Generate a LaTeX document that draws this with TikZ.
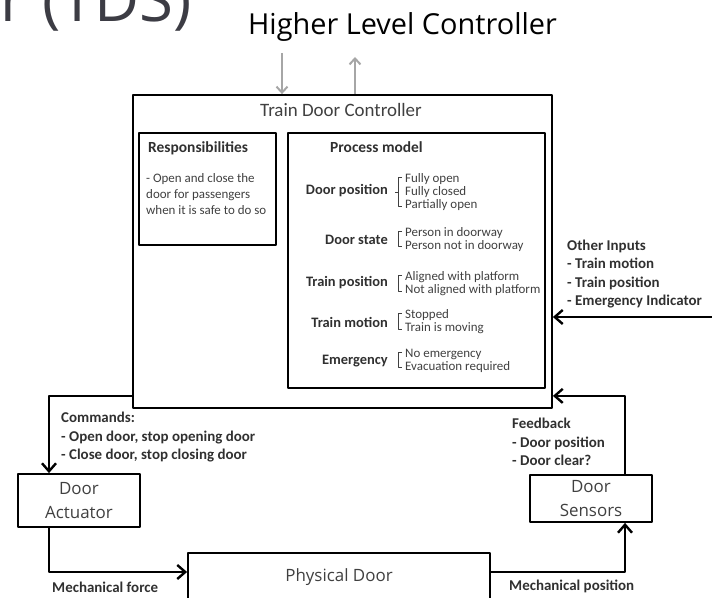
\documentclass[tikz,border=0pt]{standalone}
\usepackage{fontspec}
\setmainfont{Carlito}
\newfontfamily\opensans{Open Sans}
\usetikzlibrary{arrows.meta}
\definecolor{boxtext}{HTML}{404040}
\definecolor{labeltext}{HTML}{303030}
\definecolor{hlgrey}{HTML}{A6A6A6}
\definecolor{titlegrey}{HTML}{3C3C44}
\begin{document}
\begin{tikzpicture}[>={Straight Barb[length=8bp,width=14bp]},line join=bevel,
  box/.style={draw=black,line width=1.8bp,inner sep=0pt},
  boxtitle/.style={text=boxtext,font=\opensans\fontsize{17}{24}\selectfont,align=center},
  flow/.style={black,line width=2.4bp,->},
  hlflow/.style={hlgrey,line width=2bp,-{Straight Barb[length=6bp,width=11bp]}},
  note/.style={text=labeltext,font=\bfseries\fontsize{15}{18.5}\selectfont,align=left,inner sep=0pt},
  rowlabel/.style={text=labeltext,font=\bfseries\fontsize{14.5}{16}\selectfont,inner sep=0pt},
  rowvals/.style={text=boxtext,font=\fontsize{13}{13}\selectfont,align=left,inner sep=0pt},
  bracket/.style={boxtext,line width=0.8bp},
]
\useasboundingbox (0bp,0bp) rectangle (712bp,598bp);
%%
\node (slide_title) at (192bp,576bp) [anchor=base east,inner sep=0pt,text=titlegrey,font=\opensans\fontsize{62}{62}\selectfont] {r (TDS)};
\node (hlc) at (402.5bp,563bp) [anchor=base,inner sep=0pt,font=\opensans\fontsize{29}{29}\selectfont] {Higher Level Controller};
%% controller
\node (tdc) at (342.5bp,346.5bp) [box,minimum width=419bp,minimum height=313bp] {};
\node (tdc_title) at (341bp,481bp) [anchor=base,inner sep=0pt,text=boxtext,font=\fontsize{19}{19}\selectfont] {Train Door Controller};
\node (resp) at (207.5bp,409bp) [box,minimum width=137bp,minimum height=112bp] {};
\node (resp_title) at (148bp,445bp) [anchor=base west,rowlabel,font=\bfseries\fontsize{15.5}{16}\selectfont] {Responsibilities};
\node (resp_text) at (146bp,424.5bp) [anchor=north west,rowvals,font=\fontsize{13}{16}\selectfont] {- Open and close the\\door for passengers\\when it is safe to do so};
\node (pm) at (416.5bp,337.5bp) [box,minimum width=257bp,minimum height=255bp] {};
\node (pm_title) at (330bp,445bp) [anchor=base west,rowlabel,font=\bfseries\fontsize{15.5}{16}\selectfont] {Process model};
%% process model rows
\node (dp) at (388bp,403bp) [anchor=base east,rowlabel] {Door position};
\node (dp_val) at (405bp,405.5bp) [anchor=west,rowvals] {Fully open\\Fully closed\\Partially open};
\node (ds) at (388bp,353bp) [anchor=base east,rowlabel] {Door state};
\node (ds_val) at (405bp,358.5bp) [anchor=west,rowvals] {Person in doorway\\Person not in doorway};
\node (tp) at (388bp,311bp) [anchor=base east,rowlabel] {Train position};
\node (tp_val) at (405bp,314bp) [anchor=west,rowvals] {Aligned with platform\\Not aligned with platform};
\node (tm) at (388bp,270bp) [anchor=base east,rowlabel] {Train motion};
\node (tm_val) at (405bp,276bp) [anchor=west,rowvals] {Stopped\\Train is moving};
\node (em) at (388bp,233bp) [anchor=base east,rowlabel] {Emergency};
\node (em_val) at (405bp,237.5bp) [anchor=west,rowvals] {No emergency\\Evacuation required};
\draw [bracket] ([xshift=-3bp,yshift=-4bp]dp_val.north west) -- ++(-4bp,0) |- ([xshift=-3bp,yshift=5bp]dp_val.south west);
\draw [bracket] ([xshift=-7bp]dp_val.west) -- ++(-3bp,0);
\draw [bracket] ([xshift=-3bp,yshift=-4bp]ds_val.north west) -- ++(-4bp,0) |- ([xshift=-3bp,yshift=5bp]ds_val.south west);
\draw [bracket] ([xshift=-3bp,yshift=-4bp]tp_val.north west) -- ++(-4bp,0) |- ([xshift=-3bp,yshift=5bp]tp_val.south west);
\draw [bracket] ([xshift=-3bp,yshift=-4bp]tm_val.north west) -- ++(-4bp,0) |- ([xshift=-3bp,yshift=5bp]tm_val.south west);
\draw [bracket] ([xshift=-3bp,yshift=-4bp]em_val.north west) -- ++(-4bp,0) |- ([xshift=-3bp,yshift=5bp]em_val.south west);
%% plant
\node (act) at (79bp,97.5bp) [box,minimum width=122bp,minimum height=53bp,boxtitle] {Door\\Actuator};
\node (sens) at (591bp,99.5bp) [box,minimum width=122bp,minimum height=47bp,boxtitle] {Door\\Sensors};
\node (pd) at (339bp,21bp) [box,minimum width=302bp,minimum height=48bp,boxtitle] {Physical Door};
%% labels
\node (oi_label) at (567bp,358.5bp) [anchor=north west,note] {Other Inputs\\- Train motion\\- Train position\\- Emergency Indicator};
\node (cmd_label) at (61bp,186bp) [anchor=north west,note] {Commands:\\- Open door, stop opening door\\- Close door, stop closing door};
\node (fb_label) at (512bp,180bp) [anchor=north west,note] {Feedback\\- Door position\\- Door clear?};
\node (mf_label) at (52bp,11bp) [anchor=west,note] {Mechanical force};
\node (mp_label) at (509bp,12bp) [anchor=west,note] {Mechanical position};
%% connectors
\coordinate (hl_in) at (282bp,545bp);
\coordinate (hl_out) at (355bp,541bp);
\coordinate (oi_src) at (712bp,281bp);
\draw [hlflow] (hl_in) -- (hl_in |- tdc.north);
\draw [hlflow] (hl_out |- tdc.north) -- (hl_out);
\draw [flow] ([yshift=13bp]tdc.south west) -| ([xshift=-30bp]act.north);
\draw [flow] ([xshift=-30bp]act.south) |- ([yshift=5bp]pd.west);
\draw [flow] ([yshift=5bp]pd.east) -| ([xshift=34bp]sens.south);
\draw [flow] ([xshift=34bp]sens.north) |- ([yshift=13bp]tdc.south east);
\draw [flow] (oi_src) -- (oi_src -| tdc.east);
%
\end{tikzpicture}
\end{document}
